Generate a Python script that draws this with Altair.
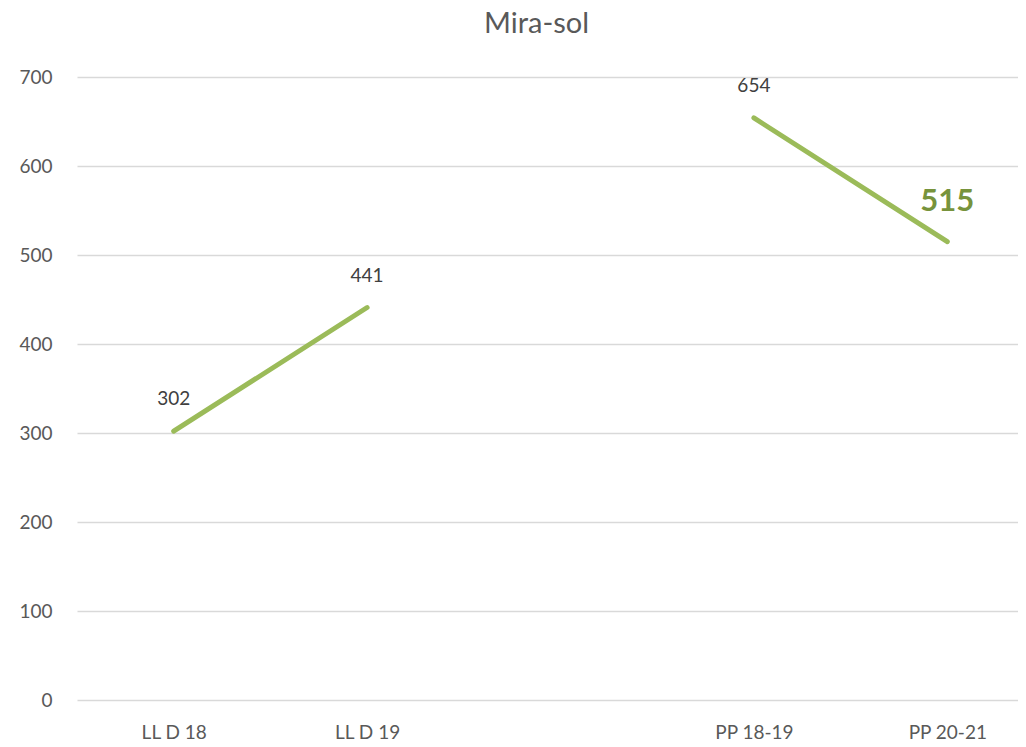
import altair as alt
import pandas as pd

categories = ["LL D 18", "LL D 19", " ", "PP 18-19", "PP 20-21"]
point_cats = ["LL D 18", "LL D 19", "PP 18-19", "PP 20-21"]
values = [302, 441, 654, 515]
groups = ["LL", "LL", "PP", "PP"]
highlight = [False, False, False, True]
y_ticks = [0, 100, 200, 300, 400, 500, 600, 700]

df = pd.DataFrame({"cat": point_cats, "value": values, "group": groups, "last": highlight})

FONT = "Lato"

x = alt.X(
    "cat:N",
    sort=categories,
    scale=alt.Scale(domain=categories, range=[0, 967], padding=0.5),
    axis=alt.Axis(title=None, labelAngle=0, ticks=False, domain=False, grid=False,
                  labelFontSize=19, labelColor="#595959", labelFont=FONT, labelPadding=23),
)
y = alt.Y(
    "value:Q",
    scale=alt.Scale(domain=[0, 700], nice=False),
    axis=alt.Axis(title=None, values=y_ticks, ticks=False, domain=False,
                  gridColor="#d9d9d9", gridWidth=1.5,
                  labelFontSize=19, labelColor="#595959", labelFont=FONT, labelPadding=25),
)

base = alt.Chart(df)

line = base.mark_line(color="#9BBB59", strokeWidth=5, strokeCap="round").encode(
    x=x, y=y, detail="group:N"
)

labels = base.transform_filter("!datum.last").mark_text(
    dy=-32, fontSize=19, color="#404040", font=FONT
).encode(x=x, y=y, text="value:Q")

big = base.transform_filter("datum.last").mark_text(
    dy=-40, fontSize=31, fontWeight="bold", color="#77933C", font=FONT
).encode(x=x, y=y, text="value:Q")

chart = alt.layer(line, labels, big).properties(
    width=941,
    height=623,
    title=alt.TitleParams("Mira-sol", fontSize=29, color="#595959", font=FONT,
                          fontWeight="normal", anchor="middle", dx=-11, offset=29),
    autosize=alt.AutoSizeParams(type="none"),
    padding={"left": 69, "top": 69, "right": 0, "bottom": 45},
).configure_view(stroke=None)

chart.save("out.html", embed_options={"renderer": "svg", "actions": False})
